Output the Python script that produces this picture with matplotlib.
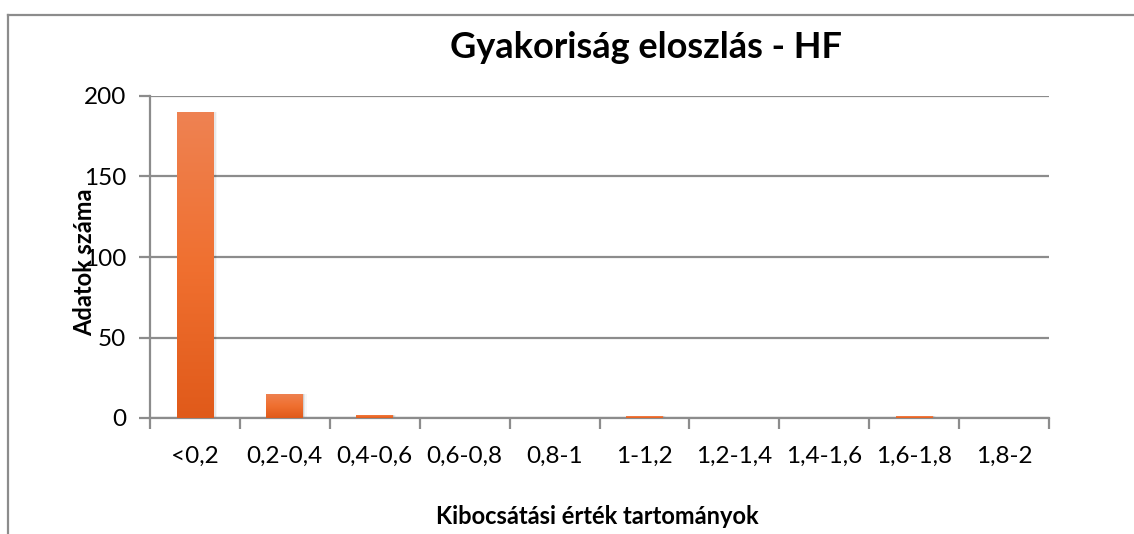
import matplotlib.pyplot as plt
import numpy as np
from matplotlib.colors import LinearSegmentedColormap
from matplotlib.lines import Line2D

categories = ['<0,2', '0,2-0,4', '0,4-0,6', '0,6-0,8', '0,8-1',
              '1-1,2', '1,2-1,4', '1,4-1,6', '1,6-1,8', '1,8-2']
counts = [190, 15, 2, 0, 0, 1, 0, 0, 1, 0]

title = 'Gyakoriság eloszlás - HF'
ylabel = 'Adatok száma'
xlabel = 'Kibocsátási érték tartományok'

plt.rcParams['font.family'] = ['Lato', 'DejaVu Sans']
grid_col = '#8c8c8c'

fig = plt.figure(figsize=(11.34, 5.34), dpi=100)
ax = fig.add_axes([150/1134, 116/534, 899/1134, 322/534])

x = np.arange(len(categories))
bars = ax.bar(x, counts, width=0.41, color='#ec6a2a', zorder=3)

# vertical gradient inside each bar
cmap = LinearSegmentedColormap.from_list('org', ['#e05a1a', '#f07030', '#ee8252'])
grad = np.linspace(0, 1, 256).reshape(-1, 1)
for b in bars:
    h = b.get_height()
    if h <= 0:
        continue
    x0 = b.get_x()
    im = ax.imshow(grad, cmap=cmap, origin='lower', aspect='auto',
                   extent=[x0, x0 + b.get_width(), 0, h], zorder=3)
    im.set_clip_path(b)
    # soft shadow
    for k, a in enumerate([0.10, 0.06, 0.03]):
        ax.bar(b.get_x() + b.get_width() / 2 + 0.012 * (k + 1), h, width=b.get_width(),
               color='black', alpha=a, zorder=2, linewidth=0)

ax.set_xlim(-0.5, len(categories) - 0.5)
ax.set_ylim(0, 200)
ax.set_yticks([0, 50, 100, 150, 200])
ax.yaxis.grid(True, color=grid_col, linewidth=1.6, zorder=0)
ax.set_axisbelow(True)

ax.set_xticks(x)
ax.set_xticklabels(categories, fontsize=17.5)
ax.set_xticks(np.arange(-0.5, len(categories)), minor=True)
ax.tick_params(axis='x', which='major', length=0, pad=20)
ax.tick_params(axis='x', which='minor', length=8, width=1.6, color=grid_col)
ax.tick_params(axis='y', length=8, width=1.6, color=grid_col, labelsize=17.5, pad=9)

for s in ['top', 'right']:
    ax.spines[s].set_visible(False)
for s in ['left', 'bottom']:
    ax.spines[s].set_color(grid_col)
    ax.spines[s].set_linewidth(1.6)

fig.text(646/1134, 1 - 48/534, title, fontsize=26, fontweight='bold',
         ha='center', va='center')
fig.text(85/1134, 1 - 262/534, ylabel, fontsize=17, fontweight='bold',
         rotation=90, ha='center', va='center')
fig.text(597/1134, 1 - 517/534, xlabel, fontsize=17, fontweight='bold',
         ha='center', va='center')

# outer chart frame (cropped)
fig.add_artist(Line2D([8/1134, 1], [1 - 15/534, 1 - 15/534], color=grid_col,
                      linewidth=1.6, transform=fig.transFigure))
fig.add_artist(Line2D([8/1134, 8/1134], [0, 1 - 15/534], color=grid_col,
                      linewidth=1.6, transform=fig.transFigure))

fig.savefig('out.png', dpi=100)
